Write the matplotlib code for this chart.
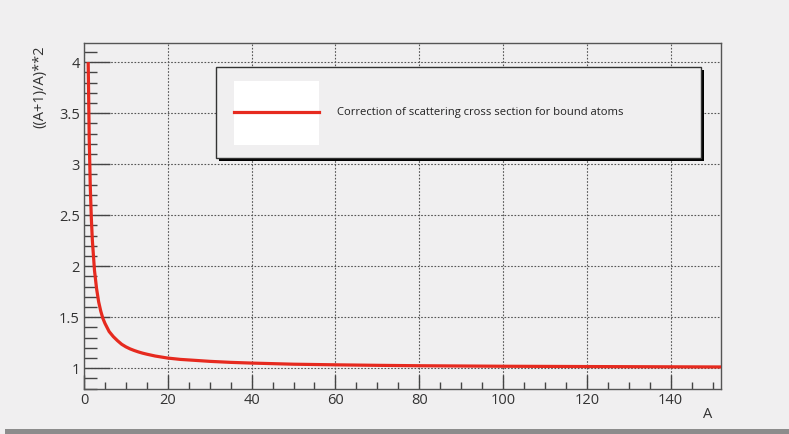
import matplotlib
matplotlib.use("Agg")
import matplotlib.pyplot as plt
from matplotlib.patches import Rectangle
from matplotlib.lines import Line2D
from matplotlib.ticker import MultipleLocator

# Data
A_values = [1, 1.25, 1.5, 1.75, 2, 2.5, 3, 3.5, 4, 4.5, 5, 6, 7, 8, 9, 10, 11, 12, 13,
            14, 15, 17, 20, 23, 26, 30, 35, 40, 50, 60, 70, 80, 100, 120, 152]
corr_values = [4.0, 3.24, 2.78, 2.47, 2.25, 1.96, 1.78, 1.65, 1.56, 1.49, 1.44, 1.36,
               1.31, 1.27, 1.235, 1.21, 1.19, 1.174, 1.16, 1.148, 1.138, 1.12, 1.10,
               1.087, 1.079, 1.068, 1.058, 1.051, 1.04, 1.034, 1.029, 1.025, 1.02,
               1.017, 1.013]
x_ticks = [0, 20, 40, 60, 80, 100, 120, 140]
y_ticks = [1, 1.5, 2, 2.5, 3, 3.5, 4]
y_ticklabels = ["1", "1.5", "2", "2.5", "3", "3.5", "4"]
legend_label = "Correction of scattering cross section for bound atoms"
x_title = "A"
y_title = "((A+1)/A)**2"

plt.rcParams['font.family'] = ['Open Sans', 'DejaVu Sans']

W, H = 789, 434
fig = plt.figure(figsize=(W / 100, H / 100), dpi=100)
bg = "#f0eff0"
fig.patch.set_facecolor(bg)

# bottom gray band
fig.patches.append(Rectangle((5 / W, 0), 1, 5 / H, transform=fig.transFigure,
                             facecolor="#8c8c8c", edgecolor="none", zorder=0))

ax = fig.add_axes([84 / W, 1 - 388.7 / H, (721 - 84) / W, (388.7 - 42.7) / H])
ax.set_facecolor(bg)
ax.set_xlim(0, 152)
ax.set_ylim(0.80, 4.19)

ax.plot(A_values, corr_values, color="#e62a1f", lw=2.3, solid_capstyle="butt",
        solid_joinstyle="round", zorder=3)

ax.xaxis.set_major_locator(MultipleLocator(20))
ax.xaxis.set_minor_locator(MultipleLocator(5))
ax.yaxis.set_major_locator(MultipleLocator(0.5))
ax.yaxis.set_minor_locator(MultipleLocator(0.1))
ax.set_xticks(x_ticks)
ax.set_xticklabels([str(v) for v in x_ticks])
ax.set_yticks(y_ticks)
ax.set_yticklabels(y_ticklabels)

ax.tick_params(axis="x", which="major", direction="in", length=10, width=1.0,
               color="#444444", labelsize=10.5, pad=3, top=False)
ax.tick_params(axis="x", which="minor", direction="in", length=5, width=1.0,
               color="#444444", top=False)
ax.tick_params(axis="y", which="major", direction="in", length=19, width=1.0,
               color="#444444", labelsize=10.5, pad=3, right=False)
ax.tick_params(axis="y", which="minor", direction="in", length=9.5, width=1.0,
               color="#444444", right=False)
for lab in ax.get_xticklabels() + ax.get_yticklabels():
    lab.set_color("#333333")

ax.grid(True, which="major", color="#555555", linestyle=(0, (1.5, 1.5)), lw=0.8)
for s in ax.spines.values():
    s.set_color("#555555")
    s.set_linewidth(1.0)

# axis titles
fig.text(712 / W, 1 - 415 / H, x_title, ha="right", va="center", fontsize=10.5,
         color="#333333")
fig.text(40 / W, 1 - 46 / H, y_title, ha="center", va="top", rotation=90,
         fontsize=10.5, color="#333333")

# legend box with shadow
lx0, lx1, ly0, ly1 = 216, 701, 67, 158
def fx(px):
    return px / W
def fy(py):
    return 1 - py / H
fig.patches.append(Rectangle((fx(lx0 + 3), fy(ly1 + 3)), fx(lx1 - lx0), (ly1 - ly0) / H,
                             transform=fig.transFigure, facecolor="black",
                             edgecolor="none", zorder=5))
fig.patches.append(Rectangle((fx(lx0), fy(ly1)), fx(lx1 - lx0), (ly1 - ly0) / H,
                             transform=fig.transFigure, facecolor=bg,
                             edgecolor="#333333", lw=1.0, zorder=6))
fig.patches.append(Rectangle((fx(234), fy(145)), fx(319 - 234), (145 - 81) / H,
                             transform=fig.transFigure, facecolor="white",
                             edgecolor="none", zorder=7))
fig.lines.append(Line2D([fx(234), fx(319)], [fy(112), fy(112)],
                        transform=fig.transFigure, color="#e62a1f", lw=2.3, zorder=8))
fig.text(fx(337), fy(112), legend_label, ha="left", va="center", fontsize=8.1,
         color="#222222", zorder=9)

fig.savefig("out.png", dpi=100, facecolor=fig.get_facecolor())
